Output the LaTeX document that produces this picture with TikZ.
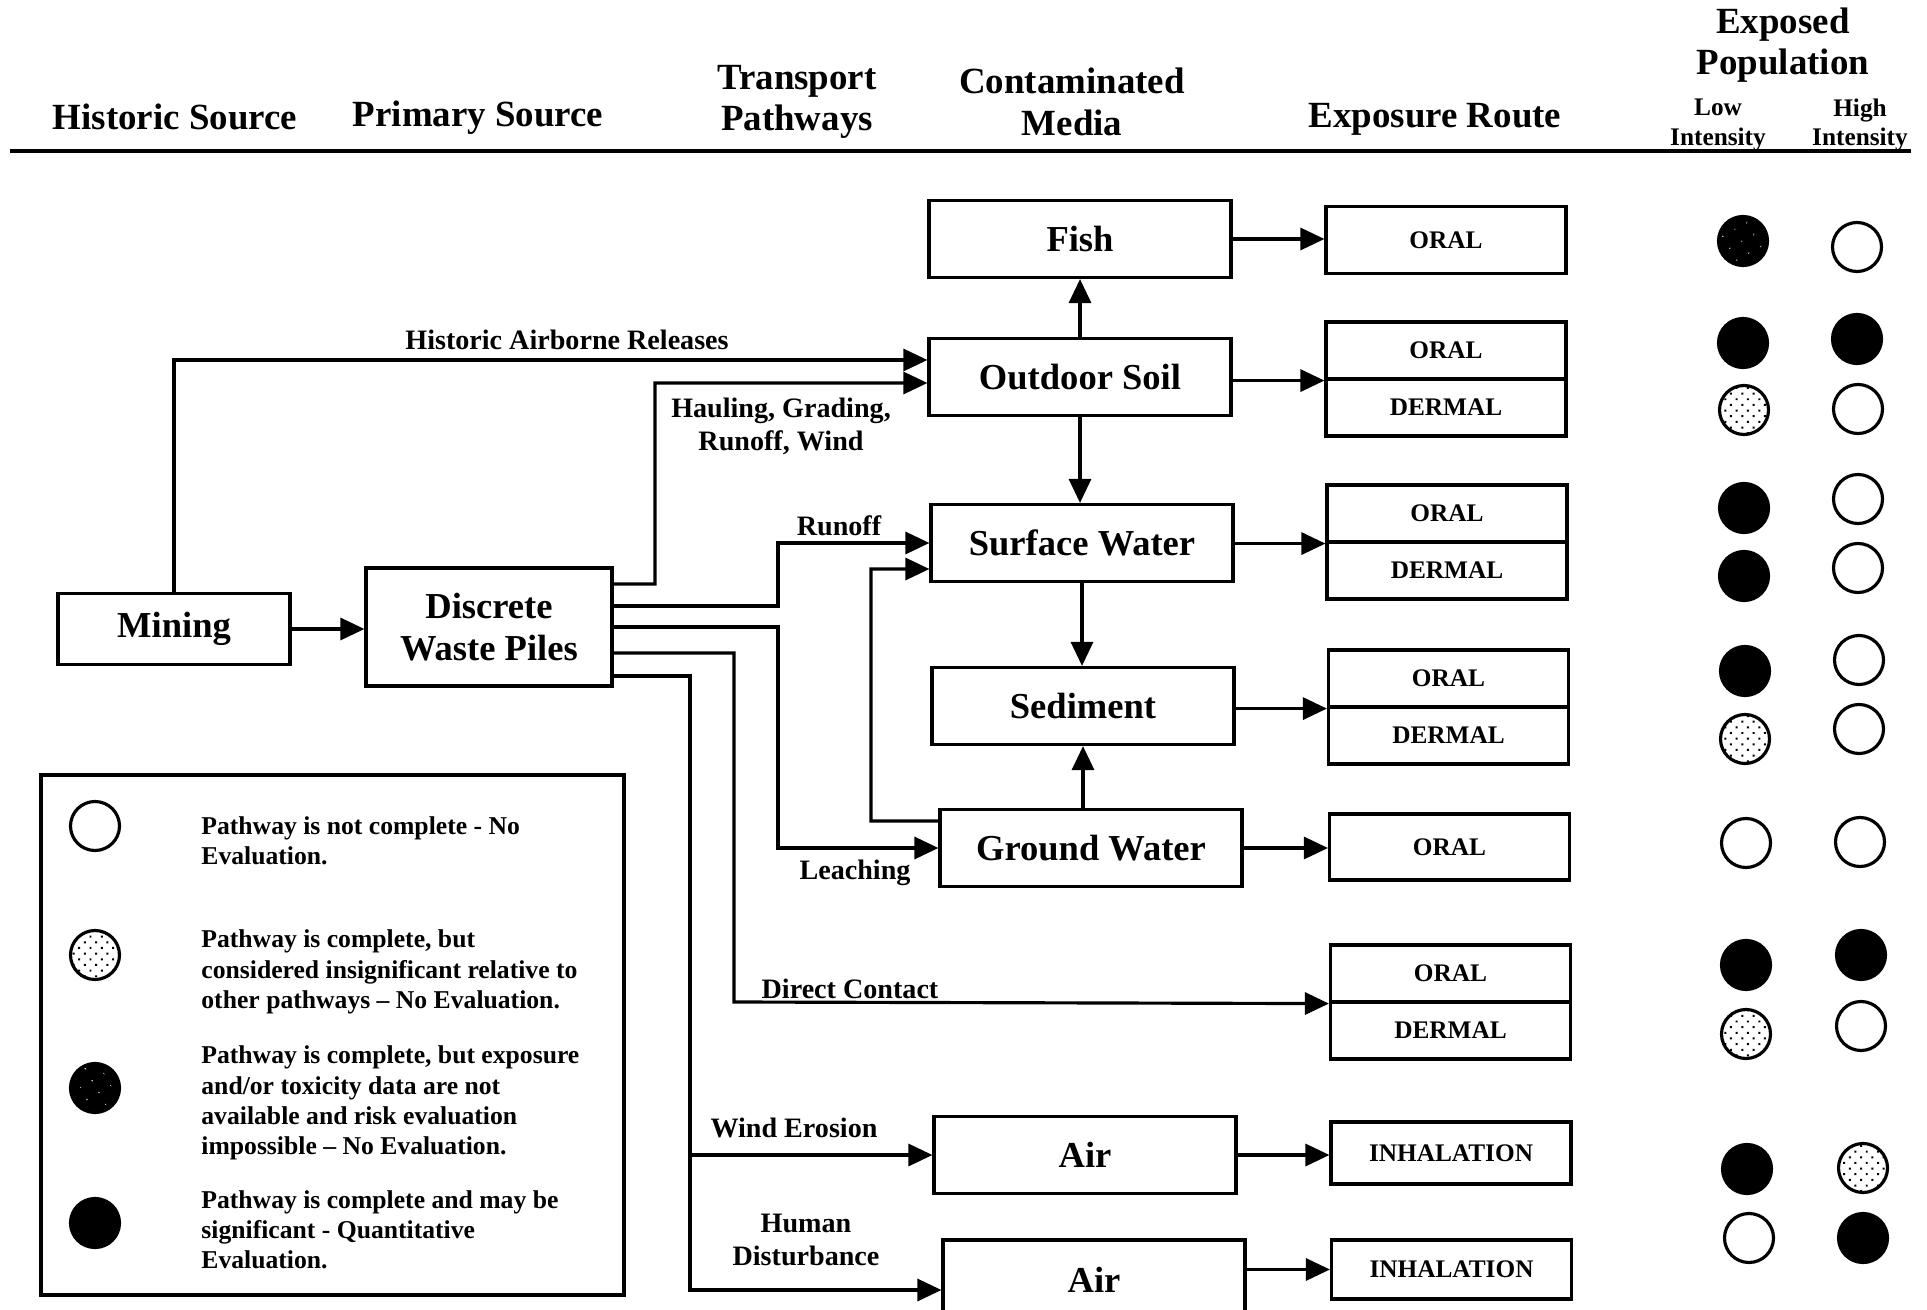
\documentclass[tikz,border=0pt]{standalone}
\usepackage{fontspec}
\setmainfont{Liberation Serif}
\usetikzlibrary{arrows.meta}
\usetikzlibrary{calc, patterns.meta}

\tikzset{
    media/.style={draw, line width=0.9pt, minimum width=30.2mm, minimum height=7.7mm, align=center, font=\fontsize{10.4}{12}\selectfont\bfseries},
    route/.style={draw, line width=0.9pt, minimum width=24mm, minimum height=5.7mm, inner sep=0pt, font=\fontsize{7.2}{8}\selectfont\bfseries},
    colhead/.style={align=center, font=\fontsize{10.5}{11.8}\selectfont\bfseries},
    subhead/.style={align=center, font=\fontsize{7.2}{8.5}\selectfont\bfseries},
    pathlbl/.style={align=center, font=\fontsize{8}{9.4}\selectfont\bfseries},
    legtxt/.style={anchor=west, align=left, font=\fontsize{7.3}{8.6}\selectfont\bfseries},
    wire/.style={line width=0.9pt},
    arr/.style={line width=0.9pt, -{Triangle[length=2.4mm,width=2.2mm]}},
    popdot/.style={circle, draw, line width=0.9pt, minimum size=4.9mm, inner sep=0pt},
    nopath/.style={popdot, fill=white},
    insig/.style={popdot, preaction={fill=white}, pattern={Dots[distance=0.8mm, radius=0.14mm, angle=45]}},
    nodata/.style={popdot, preaction={fill=black}, pattern={Dots[distance=1.4mm, radius=0.07mm, angle=30]}, pattern color=white},
    quant/.style={popdot, fill=black}
}

\begin{document}
\begin{tikzpicture}[x=0.1mm, y=-0.1mm]
    \useasboundingbox (0,0) rectangle (1927,1310);

    % column heads
    \node[colhead] (hHist) at (175,117) {Historic Source};
    \node[colhead] (hPrim) at (478,118) {Primary Source};
    \node[colhead] (hTrans) at (797,102) {Transport\\Pathways};
    \node[colhead] (hMedia) at (1072,102) {Contaminated\\Media};
    \node[colhead] (hRoute) at (1435,119) {Exposure Route};
    \node[colhead] (hPop) at (1783,45) {Exposed\\Population};
    \node[subhead] (hLow) at (1718,125) {Low\\Intensity};
    \node[subhead] (hHigh) at (1860,125) {High\\Intensity};
    \draw[line width=1.2pt] (10,151) -- (1911,151);

    % sources and media
    \node[media, minimum width=23.2mm, minimum height=7.1mm] (mining) at (174,629) {Mining};
    \node[media, minimum width=24.6mm, minimum height=11.8mm] (piles) at (489,627) {Discrete\\Waste Piles};
    \node[media] (fish) at (1080,239) {Fish};
    \node[media] (soil) at (1080,377) {Outdoor Soil};
    \node[media] (sw) at (1082,543) {Surface Water};
    \node[media] (sed) at (1083,706) {Sediment};
    \node[media] (gw) at (1091,848) {Ground Water};
    \node[media] (air1) at (1085,1155) {Air};
    \node[media, minimum height=8mm] (air2) at (1094,1280) {Air};

    % exposure routes
    \node[route, minimum height=6.7mm] (fishR) at (1446,240) {ORAL};
    \node[route] (soilRo) at (1446,350.5) {ORAL};
    \node[route] (soilRd) at (1446,407.5) {DERMAL};
    \node[route] (swRo) at (1447,513.5) {ORAL};
    \node[route] (swRd) at (1447,570.5) {DERMAL};
    \node[route] (sedRo) at (1448.5,678.5) {ORAL};
    \node[route] (sedRd) at (1448.5,735.5) {DERMAL};
    \node[route, minimum height=6.6mm] (gwR) at (1449.5,847) {ORAL};
    \node[route] (dcRo) at (1450.5,973.5) {ORAL};
    \node[route] (dcRd) at (1450.5,1030.5) {DERMAL};
    \node[route, minimum height=6.2mm] (air1R) at (1451,1153) {INHALATION};
    \node[route, minimum height=5.9mm] (air2R) at (1451.5,1269.5) {INHALATION};

    % transport pathways
    \coordinate (wind) at (690,1155);
    \draw[arr] (mining.east) -- (mining.east -| piles.west);
    \draw[arr] (mining.north) |- ([yshift=1.7mm]soil.west);
    \draw[arr] ([yshift=4.3mm]piles.east) -| (655,383) -- ([yshift=-0.6mm]soil.west);
    \draw[arr] ([yshift=2.1mm]piles.east) -| (778,543) -- (sw.west);
    \draw[arr] (piles.east) -| (778,848) -- (gw.west);
    \draw[arr] ([yshift=-2.6mm]piles.east) -| (734,1002) -- (dcRo.south west);
    \draw[wire] ([yshift=-4.9mm]piles.east) -| (wind);
    \draw[arr] (wind) -- (air1.west);
    \draw[arr] (wind) |- ([yshift=-1mm]air2.west);
    \draw[arr] ([yshift=2.7mm]gw.west) -| (871,569) -- ([yshift=-2.6mm]sw.west);

    \node[pathlbl] (lblHist) at (567,340) {Historic Airborne Releases};
    \node[pathlbl] (lblHaul) at (781,426) {Hauling, Grading,\\Runoff, Wind};
    \node[pathlbl] (lblRunoff) at (839,526) {Runoff};
    \node[pathlbl] (lblLeach) at (855,873) {Leaching};
    \node[pathlbl] (lblDirect) at (850,989) {Direct Contact};
    \node[pathlbl] (lblWind) at (794,1128) {Wind Erosion};
    \node[pathlbl] (lblHuman) at (806,1240) {Human\\Disturbance};

    % between media
    \draw[arr] (soil.north) -- (fish.south);
    \draw[arr] (soil.south) -- (soil.south |- sw.north);
    \draw[arr] (sw.south) -- (sw.south |- sed.north);
    \draw[arr] (gw.north -| sed.south) -- (sed.south);

    % media to exposure routes
    \draw[arr] (fish.east) -- (fish.east -| fishR.west);
    \draw[arr] (soilRo.south west -| soil.east) -- (soilRo.south west);
    \draw[arr] (swRo.south west -| sw.east) -- (swRo.south west);
    \draw[arr] (sedRo.south west -| sed.east) -- (sedRo.south west);
    \draw[arr] (gw.east) -- (gw.east -| gwR.west);
    \draw[arr] (air1.east) -- (air1.east -| air1R.west);
    \draw[arr] (air2R.west -| air2.east) -- (air2R.west);

    % exposed population
    \node[nodata] (fishLo) at (1743,241) {};   \node[nopath] (fishHi) at (1857,247) {};
    \node[quant] (soilOLo) at (1743,343) {};   \node[quant] (soilOHi) at (1857,339) {};
    \node[insig] (soilDLo) at (1744,410) {};   \node[nopath] (soilDHi) at (1858,409) {};
    \node[quant] (swOLo) at (1744,508) {};     \node[nopath] (swOHi) at (1858,499) {};
    \node[quant] (swDLo) at (1744,576) {};     \node[nopath] (swDHi) at (1858,568) {};
    \node[quant] (sedOLo) at (1745,671) {};    \node[nopath] (sedOHi) at (1859,660) {};
    \node[insig] (sedDLo) at (1745,739) {};    \node[nopath] (sedDHi) at (1859,729) {};
    \node[nopath] (gwLo) at (1746,843) {};     \node[nopath] (gwHi) at (1860,842) {};
    \node[quant] (dcOLo) at (1746,965) {};     \node[quant] (dcOHi) at (1861,955) {};
    \node[insig] (dcDLo) at (1746,1034) {};    \node[nopath] (dcDHi) at (1861,1026) {};
    \node[quant] (air1Lo) at (1747,1169) {};   \node[insig] (air1Hi) at (1863,1168) {};
    \node[nopath] (air2Lo) at (1749,1238) {};  \node[quant] (air2Hi) at (1863,1238) {};

    % key
    \node[draw, line width=1.3pt, minimum width=58.3mm, minimum height=52mm] (legend) at (332.5,1035) {};
    \node[nopath] (keyNo) at (95,826) {};
    \node[insig] (keyInsig) at (95,955) {};
    \node[nodata] (keyNodata) at (95,1088) {};
    \node[quant] (keyQuant) at (95,1223) {};
    \node[legtxt] (txtNo) at (189,841) {Pathway is not complete - No\\Evaluation.};
    \node[legtxt] (txtInsig) at (189,972) {Pathway is complete, but\\considered insignificant relative to\\other pathways -- No Evaluation.};
    \node[legtxt] (txtNodata) at (189,1103) {Pathway is complete, but exposure\\and/or toxicity data are not\\available and risk evaluation\\impossible -- No Evaluation.};
    \node[legtxt] (txtQuant) at (189,1230) {Pathway is complete and may be\\significant - Quantitative\\Evaluation.};

\end{tikzpicture}
\end{document}
